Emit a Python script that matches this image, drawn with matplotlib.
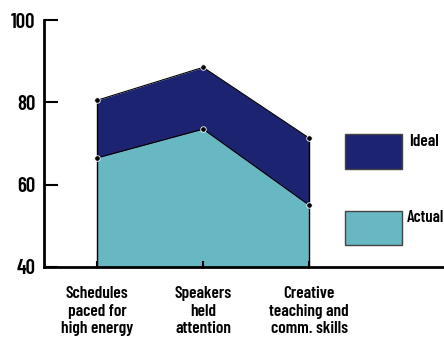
import matplotlib
matplotlib.use("Agg")
import matplotlib.pyplot as plt
from matplotlib.patches import Rectangle

categories = ["Schedules\npaced for\nhigh energy", "Speakers\nheld\nattention", "Creative\nteaching and\ncomm. skills"]
ideal = [80.5, 88.5, 71.3]
actual = [66.5, 73.5, 55.0]
yticks = [40, 60, 80, 100]

navy = "#1c2472"
teal = "#68b8c4"
fnt = dict(family=["Barlow Condensed", "DejaVu Sans"], weight=600)

fig = plt.figure(figsize=(4.44, 3.45), dpi=100)
ax = fig.add_axes([44/444, 78/345, 400/444, 247/345])
x = list(range(len(categories)))
ax.fill_between(x, 40, actual, color=teal, linewidth=0)
ax.fill_between(x, actual, ideal, color=navy, linewidth=0)
ax.plot(x, ideal, color="black", lw=0.8)
ax.plot(x, actual, color="black", lw=0.8)
ax.plot([x[0], x[0]], [40, ideal[0]], color="black", lw=1.0)
ax.plot([x[-1], x[-1]], [40, ideal[-1]], color="black", lw=1.0)
ax.plot(x, ideal, "o", ms=4, mfc="black", mec="white", mew=0.6, zorder=5)
ax.plot(x, actual, "o", ms=4, mfc="black", mec="white", mew=0.6, zorder=5)

ax.set_xlim(-0.5, 3.27)
ax.set_ylim(40, 100)
ax.set_yticks(yticks)
ax.set_yticklabels([str(v) for v in yticks], fontsize=15, **fnt)
ax.set_xticks(x)
ax.set_xticklabels(categories, fontsize=12.5, linespacing=1.2, **fnt)
ax.tick_params(axis="y", direction="in", length=10, width=1.5, pad=6)
ax.tick_params(axis="x", direction="in", length=4, width=1.5, pad=14)
for s in ["top", "right"]:
    ax.spines[s].set_visible(False)
for s in ["left", "bottom"]:
    ax.spines[s].set_linewidth(2)
ax.spines["bottom"].set_zorder(6)

# legend
fig.patches.append(Rectangle((345/444, (345-169)/345), 57/444, 35/345, transform=fig.transFigure,
                             facecolor=navy, edgecolor="#444444", lw=1))
fig.patches.append(Rectangle((345/444, (345-245)/345), 57/444, 34/345, transform=fig.transFigure,
                             facecolor=teal, edgecolor="#444444", lw=1))
fig.text(409/444, (345-142)/345, "Ideal", fontsize=12.5, va="center", ha="left", **fnt)
fig.text(407/444, (345-218)/345, "Actual", fontsize=12, va="center", ha="left", **fnt)

fig.savefig("out.png", dpi=100)
